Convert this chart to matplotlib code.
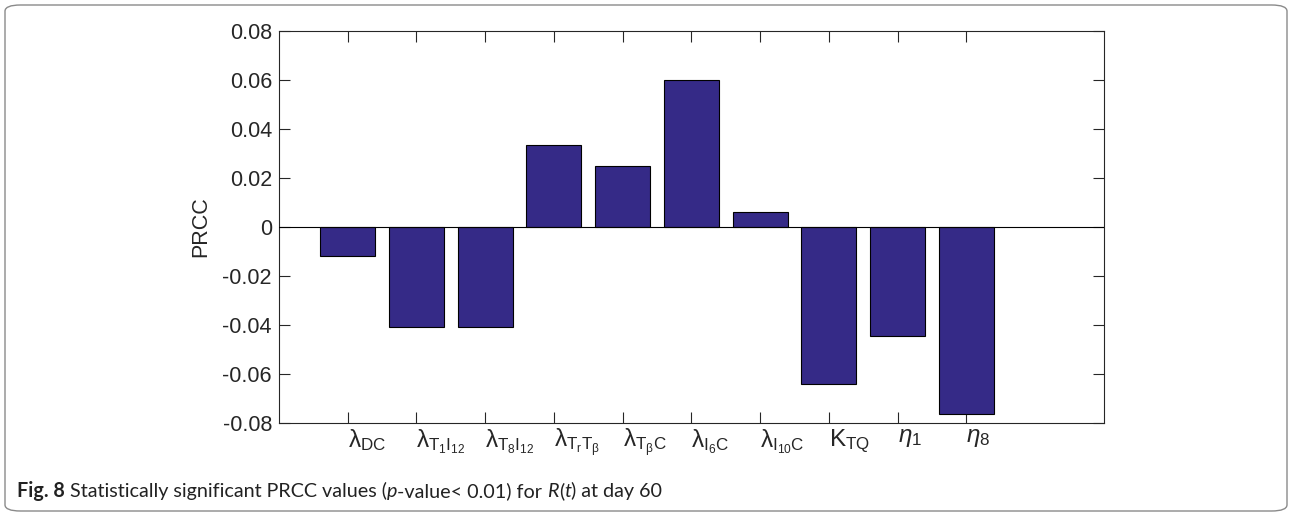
import matplotlib
matplotlib.use('Agg')
import matplotlib.pyplot as plt
from matplotlib.patches import FancyBboxPatch
import numpy as np

plt.rcParams['font.family'] = ['Liberation Sans', 'DejaVu Sans']
plt.rcParams['mathtext.fontset'] = 'custom'
plt.rcParams['mathtext.rm'] = 'Liberation Sans'
plt.rcParams['mathtext.it'] = 'Liberation Sans:italic'
plt.rcParams['mathtext.bf'] = 'Liberation Sans:bold'

labels = [r'$\mathrm{λ_{DC}}$', r'$\mathrm{λ_{T_1I_{12}}}$', r'$\mathrm{λ_{T_8I_{12}}}$',
          r'$\mathrm{λ_{T_rT_\beta}}$', r'$\mathrm{λ_{T_\beta C}}$', r'$\mathrm{λ_{I_6C}}$',
          r'$\mathrm{λ_{I_{10}C}}$', r'$\mathrm{K_{TQ}}$', r'$\eta_\mathrm{1}$', r'$\eta_\mathrm{8}$']
prcc = [-0.012, -0.041, -0.041, 0.0335, 0.025, 0.060, 0.006, -0.0642, -0.0445, -0.0763]

dark = '#262626'
fig = plt.figure(figsize=(12.92, 5.16), dpi=100)
ax = fig.add_axes([0.2159, 0.1802, 0.6385, 0.7597])

pos = np.arange(1, len(prcc) + 1)
ax.bar(pos, prcc, width=0.8, color='#352a87', edgecolor='black', linewidth=0.8, zorder=2)
ax.axhline(0, color='black', linewidth=0.8, zorder=3)

ax.set_xlim(0, 12)
ax.set_ylim(-0.08, 0.08)
ax.set_yticks(np.arange(-0.08, 0.081, 0.02))
ax.set_yticklabels(['-0.08', '-0.06', '-0.04', '-0.02', '0', '0.02', '0.04', '0.06', '0.08'])
ax.set_xticks(pos)
ax.set_xticklabels(labels, ha='left', fontsize=17.5)
ax.tick_params(direction='in', length=8, width=0.8, top=True, right=True,
               colors=dark, pad=5)
ax.tick_params(axis='y', labelsize=15.5)
ax.tick_params(axis='x', pad=3)
for s in ax.spines.values():
    s.set_color(dark)
    s.set_linewidth(0.8)
ax.set_ylabel('PRCC', fontsize=15.5, color=dark, labelpad=8)

# frame around figure and caption
frame = FancyBboxPatch((5 / 1292, 5 / 516), 1282 / 1292, 506 / 516,
                       boxstyle='round,pad=0,rounding_size=0.012',
                       transform=fig.transFigure, fill=False,
                       edgecolor='#8a8a8a', linewidth=1.0)
fig.add_artist(frame)

pieces = [('Fig. 8', 'bold', 'normal'), (' Statistically significant PRCC values (', 'normal', 'normal'),
          ('p', 'normal', 'italic'), ('-value< 0.01) for ', 'normal', 'normal'),
          ('R', 'normal', 'italic'), ('(', 'normal', 'normal'), ('t', 'normal', 'italic'),
          (') at day 60', 'normal', 'normal')]
fig.canvas.draw()
r = fig.canvas.get_renderer()

# measure at 11pt, then scale to the caption width in the reference
texts = []
total = 0
for txt, w, st in pieces:
    t = fig.text(0, 0, txt, fontsize=11, fontweight=w, fontstyle=st,
                 family=['Lato', 'DejaVu Sans'], color='#222222', va='baseline')
    texts.append(t)
    total += t.get_window_extent(r).width
size = 11 * 646 / total
x = 17
for t in texts:
    t.set_fontsize(size)
    t.set_position((x / 1292, 1 - 497 / 516))
    x += t.get_window_extent(r).width

fig.savefig('out.png', dpi=100)
